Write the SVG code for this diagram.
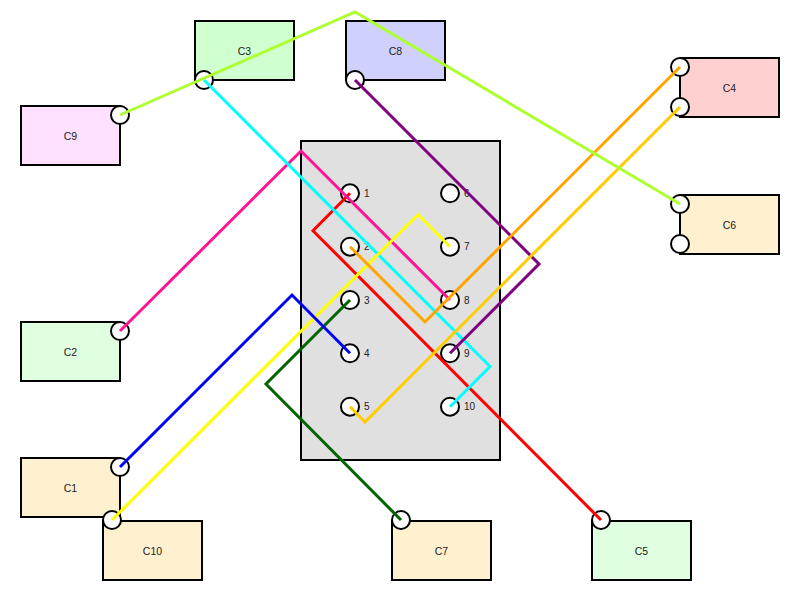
<svg xmlns="http://www.w3.org/2000/svg" width="800" height="600" viewBox="0 0 800 600">
<style>
.box{stroke:#000;stroke-width:2}
.lbl{font-family:"Liberation Sans",Arial,sans-serif;font-size:10.5px;fill:#222;text-anchor:middle;dominant-baseline:central}
.pin{fill:#fff;stroke:#000;stroke-width:2}
.plbl{font-family:"Liberation Sans",Arial,sans-serif;font-size:10px;fill:#222;dominant-baseline:central}
.w{fill:none;stroke-width:3;stroke-linejoin:miter}
</style>
<rect width="800" height="600" fill="#fff"/>
<g id="panel">
<rect class="box" x="301" y="141" width="199" height="319" fill="#e0e0e0"/>
<circle class="pin" cx="350" cy="193.3" r="9"/><text class="plbl" x="364" y="193.3">1</text>
<circle class="pin" cx="350" cy="246.7" r="9"/><text class="plbl" x="364" y="246.7">2</text>
<circle class="pin" cx="350" cy="300" r="9"/><text class="plbl" x="364" y="300">3</text>
<circle class="pin" cx="350" cy="353.3" r="9"/><text class="plbl" x="364" y="353.3">4</text>
<circle class="pin" cx="350" cy="406.7" r="9"/><text class="plbl" x="364" y="406.7">5</text>
<circle class="pin" cx="450" cy="193.3" r="9"/><text class="plbl" x="464" y="193.3">6</text>
<circle class="pin" cx="450" cy="246.7" r="9"/><text class="plbl" x="464" y="246.7">7</text>
<circle class="pin" cx="450" cy="300" r="9"/><text class="plbl" x="464" y="300">8</text>
<circle class="pin" cx="450" cy="353.3" r="9"/><text class="plbl" x="464" y="353.3">9</text>
<circle class="pin" cx="450" cy="406.7" r="9"/><text class="plbl" x="464" y="406.7">10</text>
</g>
<g id="C9"><rect class="box" x="21" y="106" width="99" height="59" fill="#ffe0ff"/><text class="lbl" x="70.5" y="135.5">C9</text><circle class="pin" cx="120" cy="115" r="9"/></g>
<g id="C3"><rect class="box" x="195" y="21" width="99" height="59" fill="#d0ffd0"/><text class="lbl" x="244.5" y="50.5">C3</text><circle class="pin" cx="204" cy="80" r="9"/></g>
<g id="C8"><rect class="box" x="346" y="21" width="99" height="59" fill="#d0d0ff"/><text class="lbl" x="395.5" y="50.5">C8</text><circle class="pin" cx="355" cy="80" r="9"/></g>
<g id="C4"><rect class="box" x="680" y="58" width="99" height="59" fill="#ffd0d0"/><text class="lbl" x="729.5" y="87.5">C4</text><circle class="pin" cx="680" cy="67" r="9"/><circle class="pin" cx="680" cy="107" r="9"/></g>
<g id="C6"><rect class="box" x="680" y="195" width="99" height="59" fill="#fff0d0"/><text class="lbl" x="729.5" y="224.5">C6</text><circle class="pin" cx="680" cy="204" r="9"/><circle class="pin" cx="680" cy="244" r="9"/></g>
<g id="C2"><rect class="box" x="21" y="322" width="99" height="59" fill="#e0ffe0"/><text class="lbl" x="70.5" y="351.5">C2</text><circle class="pin" cx="120" cy="331" r="9"/></g>
<g id="C1"><rect class="box" x="21" y="458" width="99" height="59" fill="#fff0d0"/><text class="lbl" x="70.5" y="487.5">C1</text><circle class="pin" cx="120" cy="467" r="9"/></g>
<g id="C10"><rect class="box" x="103" y="521" width="99" height="59" fill="#fff0d0"/><text class="lbl" x="152.5" y="550.5">C10</text><circle class="pin" cx="112" cy="520" r="9"/></g>
<g id="C7"><rect class="box" x="392" y="521" width="99" height="59" fill="#fff0d0"/><text class="lbl" x="441.5" y="550.5">C7</text><circle class="pin" cx="401" cy="520" r="9"/></g>
<g id="C5"><rect class="box" x="592" y="521" width="99" height="59" fill="#e0ffe0"/><text class="lbl" x="641.5" y="550.5">C5</text><circle class="pin" cx="601" cy="520" r="9"/></g>
<g id="connectors">
<polyline class="w" stroke="#ff0000" points="350,193.3 313,230.7 601,520"/>
<polyline class="w" stroke="#ff1493" points="120,331 301,151 450,300"/>
<polyline class="w" stroke="#00ffff" points="204,80 490,366.5 450,406.7"/>
<polyline class="w" stroke="#800080" points="355,80 539,264 450,353.3"/>
<polyline class="w" stroke="#ffff00" points="112,520 418,214.5 450,246.7"/>
<polyline class="w" stroke="#ffa500" points="680,67 425,322 350,246.7"/>
<polyline class="w" stroke="#ffcc00" points="680,107 365,422 350,406.7"/>
<polyline class="w" stroke="#006400" points="350,300 266,384 401,520"/>
<polyline class="w" stroke="#0000ff" points="120,467 292,295 350,353.3"/>
<polyline class="w" stroke="#adff2f" points="120,115 355,12 680,204"/>
</g>
</svg>
